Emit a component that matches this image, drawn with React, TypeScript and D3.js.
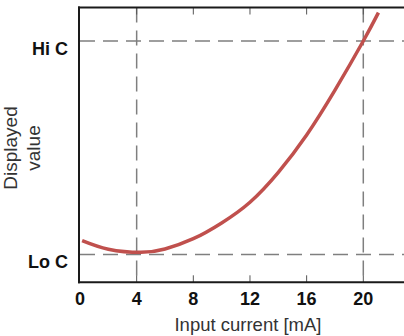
import React from "react";
import * as d3 from "d3";

// Data (value units: Lo C = 0, Hi C = 1)
const currentMA = [0.15, 2, 4.3, 6, 8, 10, 12, 14, 16, 18, 20, 21.07];
const displayed = [0.065, 0.025, 0.01, 0.026, 0.074, 0.148, 0.245, 0.385, 0.56, 0.77, 1.0, 1.133];
const xTicks = [0, 4, 8, 12, 16, 20];
const refCurrents = [4, 20];
const refLevels = [
  { label: "Lo C", value: 0 },
  { label: "Hi C", value: 1 },
];

const W = 404;
const H = 336;
const left = 80;
const right = 404;
const top = 7.5;
const bottom = 282.3;

export default function App() {
  const x = d3.scaleLinear().domain([0, 20]).range([80, 363.3]);
  const y = d3.scaleLinear().domain([0, 1]).range([254.5, 41]);
  const pts = currentMA.map((c, i) => [c, displayed[i]] as [number, number]);
  const line = d3
    .line<[number, number]>()
    .x((d) => x(d[0]))
    .y((d) => y(d[1]))
    .curve(d3.curveNatural);
  const font = "'Liberation Sans', Arial, Helvetica, sans-serif";
  const dash = "15,8";
  return (
    <svg
      width={W}
      height={H}
      style={{ position: "absolute", left: 0, top: 0, background: "#fff" }}
      fontFamily={font}
    >
      {/* dashed reference lines */}
      {refCurrents.map((c) => (
        <line
          key={"v" + c}
          x1={x(c)}
          x2={x(c)}
          y1={top}
          y2={bottom}
          stroke="#7f7f7f"
          strokeWidth={1.5}
          strokeDasharray={dash}
        />
      ))}
      {refLevels.map((r) => (
        <line
          key={"h" + r.label}
          x1={left}
          x2={right}
          y1={y(r.value)}
          y2={y(r.value)}
          stroke="#7f7f7f"
          strokeWidth={1.5}
          strokeDasharray={dash}
        />
      ))}
      {/* inward ticks top and bottom */}
      {xTicks.slice(1).map((t) => (
        <g key={"t" + t}>
          <line x1={x(t)} x2={x(t)} y1={bottom} y2={bottom - 7} stroke="#555" strokeWidth={1} />
          <line x1={x(t)} x2={x(t)} y1={top} y2={top + 7} stroke="#555" strokeWidth={1} />
        </g>
      ))}
      {/* curve */}
      <path d={line(pts) || ""} fill="none" stroke="#c0504d" strokeWidth={3.5} />
      {/* frame */}
      <line x1={left - 1} x2={left - 1} y1={top - 1} y2={bottom + 1} stroke="#1a1a1a" strokeWidth={2} />
      <line x1={left - 2} x2={right} y1={bottom} y2={bottom} stroke="#1a1a1a" strokeWidth={2} />
      <line x1={left - 2} x2={right} y1={top} y2={top} stroke="#1a1a1a" strokeWidth={2} />
      {/* x tick labels */}
      {xTicks.map((t) => (
        <text
          key={"l" + t}
          x={x(t)}
          y={304.5}
          textAnchor="middle"
          fontWeight="bold"
          fontSize={18}
          fill="#111"
        >
          {t}
        </text>
      ))}
      {/* level labels */}
      {refLevels.map((r) => (
        <text
          key={"ll" + r.label}
          x={68}
          y={y(r.value) + 13.5}
          textAnchor="end"
          fontWeight="bold"
          fontSize={18}
          fill="#111"
        >
          {r.label}
        </text>
      ))}
      {/* axis titles */}
      <text x={248} y={331} textAnchor="middle" fontSize={18.5} fill="#333">
        Input current [mA]
      </text>
      <g transform="translate(16.5,148) rotate(-90)">
        <text x={0} y={0} textAnchor="middle" fontSize={19} fill="#333">
          Displayed
        </text>
        <text x={0} y={23} textAnchor="middle" fontSize={19} fill="#333">
          value
        </text>
      </g>
    </svg>
  );
}
